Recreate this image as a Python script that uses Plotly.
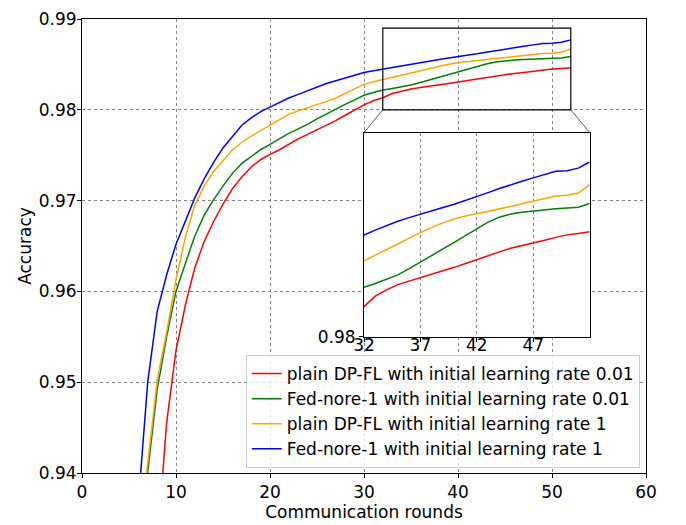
import plotly.graph_objects as go

rounds = list(range(1, 53))

red_lr001 = [0.80, 0.85, 0.88, 0.90, 0.91, 0.92, 0.926, 0.932, 0.9455, 0.9535,
             0.9585, 0.9626, 0.9655, 0.9677, 0.9696, 0.9713, 0.9726, 0.9737, 0.9745, 0.9751,
             0.9756, 0.9762, 0.9768, 0.9773, 0.9778, 0.9783, 0.9788, 0.9794, 0.9800, 0.98055,
             0.9810, 0.98133, 0.98179, 0.98207, 0.9823, 0.98245, 0.98258, 0.98274, 0.9829, 0.98306,
             0.98323, 0.98341, 0.98358, 0.98374, 0.9839, 0.98401, 0.98412, 0.98425, 0.98438, 0.98449,
             0.98455, 0.98463]

green_lr001 = [0.82, 0.87, 0.89, 0.91, 0.92, 0.931, 0.9402, 0.9492, 0.9550, 0.9600,
               0.9631, 0.9661, 0.9684, 0.9701, 0.9716, 0.9730, 0.9741, 0.9749, 0.9756, 0.9762,
               0.9768, 0.9774, 0.9779, 0.9784, 0.9790, 0.97955, 0.9801, 0.9806, 0.9811, 0.9816,
               0.9819, 0.98218, 0.98235, 0.98253, 0.98273, 0.9830, 0.9833, 0.98358, 0.98387, 0.98416,
               0.98446, 0.98476, 0.98505, 0.98527, 0.98541, 0.98549, 0.98555, 0.9856, 0.98564, 0.98567,
               0.98571, 0.98587]

orange_lr1 = [0.82, 0.87, 0.89, 0.91, 0.92, 0.932, 0.9411, 0.9502, 0.9555, 0.9613,
              0.9660, 0.9695, 0.9716, 0.9732, 0.9744, 0.9756, 0.9764, 0.9771, 0.9777, 0.9783,
              0.9789, 0.9795, 0.9799, 0.9802, 0.9806, 0.9809, 0.9813, 0.9818, 0.9823, 0.9828,
              0.9831, 0.98334, 0.9836, 0.98385, 0.98409, 0.98435, 0.98459, 0.98482, 0.98502, 0.98519,
              0.98532, 0.98542, 0.98553, 0.98564, 0.98574, 0.98586, 0.98598, 0.9861, 0.9862, 0.98624,
              0.98633, 0.9867]

blue_lr1 = [0.85, 0.89, 0.91, 0.92, 0.93, 0.9368, 0.9501, 0.9578, 0.9618, 0.9652,
            0.9678, 0.9703, 0.9724, 0.9742, 0.9758, 0.9771, 0.9783, 0.9791, 0.9798, 0.9803,
            0.9808, 0.9813, 0.9817, 0.9821, 0.9825, 0.9829, 0.9832, 0.9835, 0.9838, 0.9841,
            0.9843, 0.98448, 0.9847, 0.9849, 0.98509, 0.98525, 0.98541, 0.98555, 0.9857, 0.98584,
            0.9860, 0.98617, 0.98635, 0.98653, 0.9867, 0.98685, 0.9870, 0.98715, 0.98729, 0.98732,
            0.98743, 0.9877]

series = [
    ("plain DP-FL with initial learning rate 0.01", red_lr001, "#ff0000"),
    ("Fed-nore-1 with initial learning rate 0.01", green_lr001, "#008000"),
    ("plain DP-FL with initial learning rate 1", orange_lr1, "#ffa500"),
    ("Fed-nore-1 with initial learning rate 1", blue_lr1, "#0000ff"),
]

main_xrange = [0, 60]
main_yrange = [0.94, 0.99]
zoom_xrange = [32, 52]
zoom_yrange = [0.98, 0.989]
inset_xdom = [0.5, 0.9]
inset_ydom = [0.3, 0.75]

FONT = "DejaVu Sans"
FS = 17
fig = go.Figure()
for name, vals, col in series:
    fig.add_trace(go.Scatter(x=rounds, y=vals, mode="lines", name=name,
                             line=dict(color=col, width=1.5), xaxis="x", yaxis="y"))
for name, vals, col in series:
    fig.add_trace(go.Scatter(x=rounds, y=vals, mode="lines", name=name, showlegend=False,
                             line=dict(color=col, width=1.5), xaxis="x2", yaxis="y2"))

axis_common = dict(showline=True, mirror=True, linecolor="black", linewidth=1,
                   ticks="outside", ticklen=4, tickcolor="black", tickwidth=1,
                   showgrid=True, gridcolor="#7f7f7f", griddash="dot", gridwidth=0.8,
                   zeroline=False, ticklabeloverflow="allow",
                   tickfont=dict(family=FONT, size=FS, color="black"))

fig.update_layout(
    width=686, height=525,
    margin=dict(l=82, r=40, t=9, b=49),
    plot_bgcolor="white", paper_bgcolor="white",
    font=dict(family=FONT, size=FS, color="black"),
    xaxis=dict(domain=[0, 1], range=main_xrange, tickvals=list(range(0, 61, 10)),
               title=dict(text="Communication rounds", standoff=2,
                          font=dict(family=FONT, size=FS)), **axis_common),
    yaxis=dict(domain=[0, 1], range=main_yrange, tickvals=[0.94, 0.95, 0.96, 0.97, 0.98, 0.99],
               tickformat=".2f", ticklabelstandoff=-3,
               title=dict(text="Accuracy", standoff=2, font=dict(family=FONT, size=FS)),
               **axis_common),
    xaxis2=dict(domain=inset_xdom, anchor="y2", range=zoom_xrange, tickvals=[32, 37, 42, 47],
                ticklabelstandoff=-11, **axis_common),
    yaxis2=dict(domain=inset_ydom, anchor="x2", range=zoom_yrange, tickvals=[0.98],
                tickformat=".2f", ticklabelstandoff=0, **axis_common),
    legend=dict(x=0.989, y=0.011, xanchor="right", yanchor="bottom",
                bgcolor="rgba(255,255,255,0.8)", bordercolor="#cccccc", borderwidth=1,
                font=dict(family=FONT, size=FS, color="black"), tracegroupgap=0),
    showlegend=True,
)

# zoom rectangle and connector lines (main data coordinates)
ix0 = main_xrange[0] + inset_xdom[0] * (main_xrange[1] - main_xrange[0])
ix1 = main_xrange[0] + inset_xdom[1] * (main_xrange[1] - main_xrange[0])
iytop = main_yrange[0] + inset_ydom[1] * (main_yrange[1] - main_yrange[0])
fig.add_shape(type="rect", xref="x", yref="y", x0=zoom_xrange[0], x1=zoom_xrange[1],
              y0=zoom_yrange[0], y1=zoom_yrange[1], line=dict(color="black", width=1.2),
              layer="above")
fig.add_shape(type="line", xref="x", yref="y", x0=zoom_xrange[0], y0=zoom_yrange[0],
              x1=ix0, y1=iytop, line=dict(color="#333333", width=0.8))
fig.add_shape(type="line", xref="x", yref="y", x0=zoom_xrange[1], y0=zoom_yrange[0],
              x1=ix1, y1=iytop, line=dict(color="#333333", width=0.8))

fig.write_html("out.html")
